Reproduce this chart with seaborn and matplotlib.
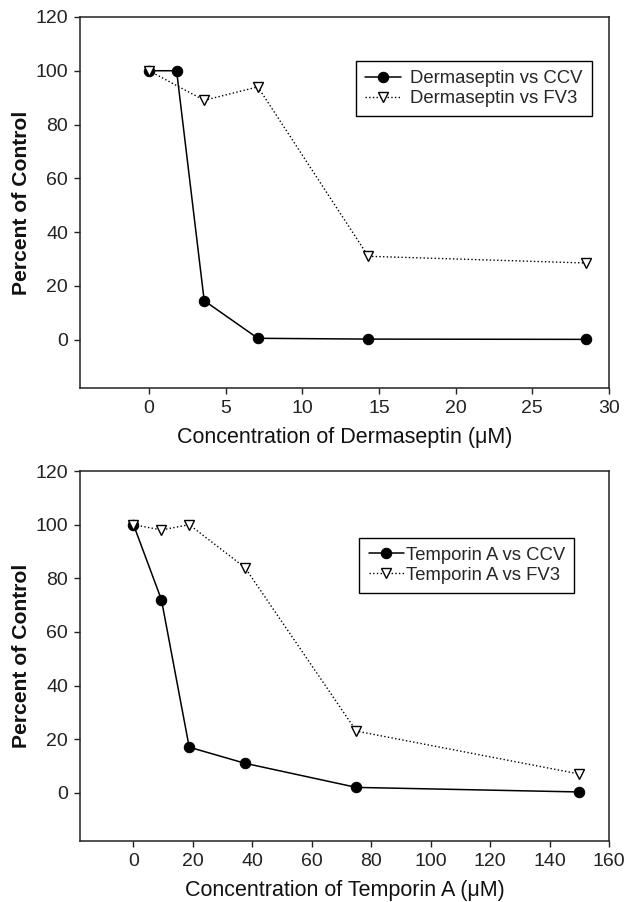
import matplotlib
matplotlib.use("Agg")
import matplotlib.pyplot as plt
import seaborn as sns
import pandas as pd

sns.set_theme(style="white")
plt.rcParams['font.family'] = ['Liberation Sans', 'DejaVu Sans']

# Dermaseptin panel
derm_conc = [0, 1.8, 3.6, 7.1, 14.3, 28.5]
derm_ccv = [100, 100, 14.5, 0.5, 0.2, 0.1]
derm_fv3_conc = [0, 3.6, 7.1, 14.3, 28.5]
derm_fv3 = [100, 89, 94, 31, 28.5]

# Temporin A panel
temp_conc = [0, 9.4, 18.75, 37.5, 75, 150]
temp_ccv = [100, 72, 17, 11, 2, 0.3]
temp_fv3 = [100, 98, 100, 84, 23, 7]

fig = plt.figure(figsize=(6.26, 9.02), dpi=100)
ax1 = fig.add_axes([0.1278, 0.5698, 0.845, 0.4114])
ax2 = fig.add_axes([0.1278, 0.0676, 0.845, 0.4102])

TFS = 14
LFS = 13.3

def draw(ax, x1, y1, lab1, x2, y2, lab2, xlim, xticks, xlabel, legloc, htp):
    sns.lineplot(x=x1, y=y1, ax=ax, color='black', linewidth=1.1,
                 marker='o', markersize=7.5, markeredgecolor='black',
                 markerfacecolor='black', label=lab1, zorder=3)
    sns.lineplot(x=x2, y=y2, ax=ax, color='black', linewidth=1.0,
                 linestyle=':', marker='v', markersize=7.5,
                 markerfacecolor='white', markeredgecolor='black',
                 markeredgewidth=1.0, label=lab2, zorder=4)
    ax.set_xlim(*xlim)
    ax.set_ylim(-18, 120)
    ax.set_xticks(xticks)
    ax.set_yticks([0, 20, 40, 60, 80, 100, 120])
    ax.tick_params(axis='both', which='both', direction='out', length=4,
                   width=1, colors='#222222', labelsize=TFS, pad=4.5,
                   bottom=True, left=True, top=False, right=False)
    for s in ax.spines.values():
        s.set_color('#222222')
        s.set_linewidth(1.1)
    ax.set_xlabel(xlabel, fontsize=15.5, labelpad=7, color='#111111')
    ax.set_ylabel('Percent of Control', fontsize=15.2, fontweight='bold',
                  labelpad=3.5, color='#111111')
    leg = ax.legend(loc='upper right', bbox_to_anchor=legloc, fontsize=LFS,
                    frameon=True, fancybox=False, edgecolor='black',
                    framealpha=1, handlelength=1.9, handletextpad=htp,
                    borderpad=0.5, labelspacing=0.15, borderaxespad=0)
    leg.get_frame().set_linewidth(1.0)
    ax.grid(False)

draw(ax1, derm_conc, derm_ccv, 'Dermaseptin vs CCV',
     derm_fv3_conc, derm_fv3, 'Dermaseptin vs FV3',
     (-4.5, 30), [0, 5, 10, 15, 20, 25, 30],
     'Concentration of Dermaseptin (\u03bcM)', (0.967, 0.881), 0.5)
draw(ax2, temp_conc, temp_ccv, 'Temporin A vs CCV',
     temp_conc, temp_fv3, 'Temporin A vs FV3',
     (-18, 160), [0, 20, 40, 60, 80, 100, 120, 140, 160],
     'Concentration of Temporin A (\u03bcM)', (0.934, 0.820), 0.1)

fig.savefig('out.png', dpi=100)
